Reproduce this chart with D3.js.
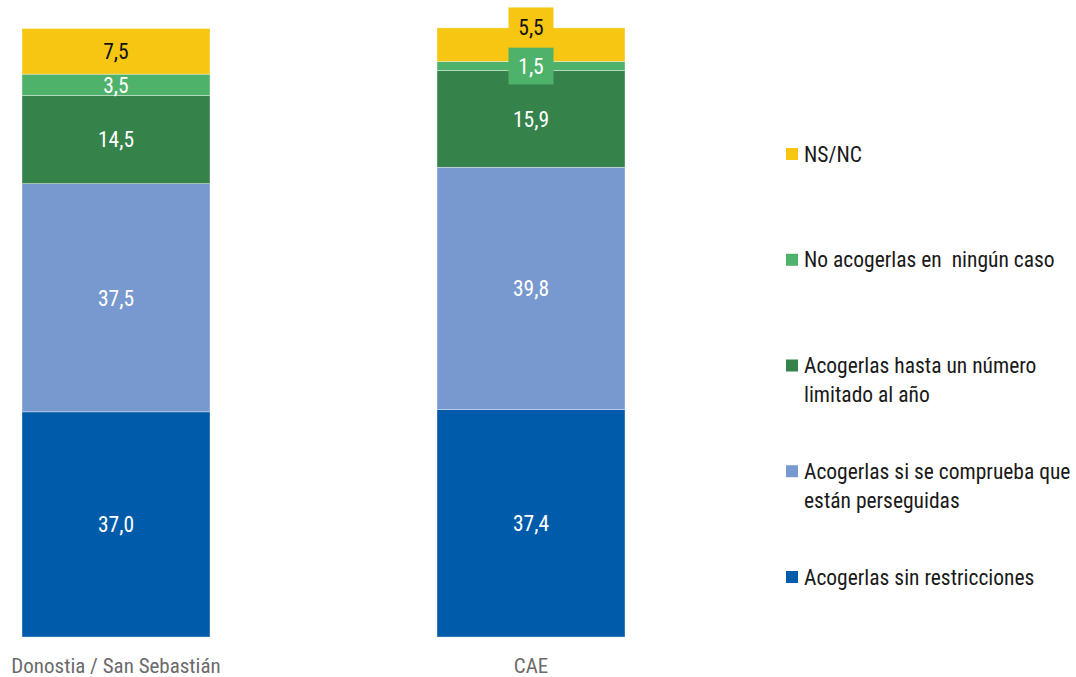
<!DOCTYPE html>
<html><head><meta charset="utf-8">
<script src="https://cdn.jsdelivr.net/npm/d3@7"></script>
<style>
body{margin:0;background:#fff;}
svg text{font-family:"Liberation Sans Narrow","Roboto Condensed","Arial Narrow",sans-serif;white-space:pre;}
</style></head>
<body><svg id="c" width="1076" height="677"></svg>
<script>
const categories = ["Donostia / San Sebastián", "CAE"];
const seriesNames = ["Acogerlas sin restricciones", "Acogerlas si se comprueba que\nestán perseguidas", "Acogerlas hasta un número\nlimitado al año", "No acogerlas en  ningún caso", "NS/NC"];
const sinRestricciones = [37.0, 37.4];
const siPerseguidas = [37.5, 39.8];
const numeroLimitado = [14.5, 15.9];
const ningunCaso = [3.5, 1.5];
const nsnc = [7.5, 5.5];
const colors = ["#005BAA", "#7899CF", "#35834B", "#4FB26A", "#F6C613"];
const textColors = ["#fff", "#fff", "#fff", "#fff", "#111"];

const values = [sinRestricciones, siPerseguidas, numeroLimitado, ningunCaso, nsnc];
const svg = d3.select("#c");
const x = d3.scaleBand().domain(categories).range([22, 625]).paddingInner(0.547).paddingOuter(0);
const y = d3.scaleLinear().domain([0, 100]).range([637, 28.5]);
const fmt = v => d3.format(".1f")(v).replace(".", ",");

categories.forEach((cat, ci) => {
  let acc = 0;
  const segs = values.map((arr, si) => {
    const y0 = acc; acc += arr[ci];
    return {si, v: arr[ci], y0, y1: acc};
  });
  const g = svg.append("g");
  g.selectAll("rect").data(segs).join("rect")
    .attr("x", x(cat)).attr("width", x.bandwidth())
    .attr("y", d => y(d.y1)).attr("height", d => y(d.y0) - y(d.y1))
    .attr("fill", d => colors[d.si])
    .attr("stroke", "#fff").attr("stroke-width", 0.6).attr("stroke-opacity", 0.6);
  const boxW = 45;
  const cx = x(cat) + x.bandwidth() / 2;
  let lastTop = Infinity;
  segs.forEach(d => {
    const h = y(d.y0) - y(d.y1);
    let cy = (y(d.y0) + y(d.y1)) / 2;
    if (h < 15) {
      const bh = 37;
      g.append("rect").attr("x", cx - boxW / 2).attr("y", cy - bh / 2)
        .attr("width", boxW).attr("height", bh).attr("fill", colors[d.si]);
      lastTop = cy - bh / 2;
    } else if (lastTop < Infinity && cy + 14 > lastTop) {
      const bh = 40;
      cy = lastTop - bh / 2;
      g.append("rect").attr("x", cx - boxW / 2).attr("y", cy - bh / 2)
        .attr("width", boxW).attr("height", bh).attr("fill", colors[d.si]);
      lastTop = cy - bh / 2;
    } else {
      lastTop = Infinity;
    }
    g.append("text").attr("x", cx).attr("y", cy).attr("dy", "0.36em")
      .attr("text-anchor", "middle").attr("font-size", 21.5)
      .attr("fill", textColors[d.si]).text(fmt(d.v));
  });
  svg.append("text").attr("x", cx).attr("y", 665).attr("dy", "0.36em")
    .attr("text-anchor", "middle").attr("font-size", 21).attr("fill", "#6b6b6b").text(cat);
});

// legend
const legendY = d3.scalePoint().domain(d3.range(5)).range([577, 154]);
seriesNames.forEach((name, i) => {
  const ly = legendY(i);
  const lines = name.split("\n");
  const g = svg.append("g");
  g.append("rect").attr("x", 786).attr("y", ly - 6).attr("width", 12).attr("height", 12).attr("fill", colors[i]);
  lines.forEach((ln, k) => {
    g.append("text").attr("x", 804).attr("y", ly + k * 29).attr("dy", "0.36em")
      .attr("font-size", 21.5).attr("fill", "#1a1a1a").text(ln);
  });
});
</script></body></html>
